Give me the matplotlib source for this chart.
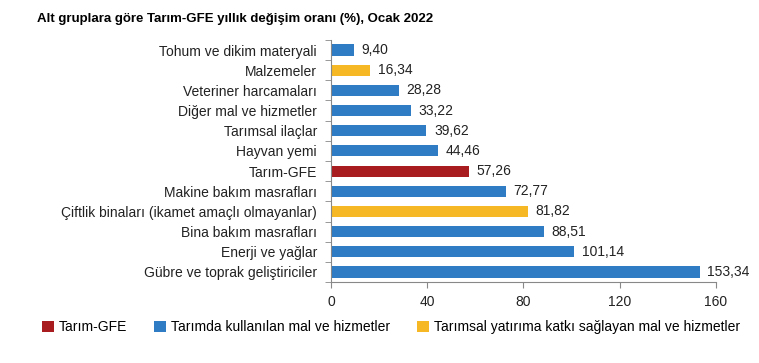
import numpy as np
import matplotlib.pyplot as plt
from matplotlib.patches import Patch

plt.rcParams['font.family'] = ['Liberation Sans', 'DejaVu Sans']
plt.rcParams['font.size'] = 10

categories = ['Tohum ve dikim materyali', 'Malzemeler', 'Veteriner harcamaları',
              'Diğer mal ve hizmetler', 'Tarımsal ilaçlar', 'Hayvan yemi', 'Tarım-GFE',
              'Makine bakım masrafları', 'Çiftlik binaları (ikamet amaçlı olmayanlar)',
              'Bina bakım masrafları', 'Enerji ve yağlar', 'Gübre ve toprak geliştiriciler']
values = [9.40, 16.34, 28.28, 33.22, 39.62, 44.46, 57.26, 72.77, 81.82, 88.51, 101.14, 153.34]
groups = ['mal', 'yat', 'mal', 'mal', 'mal', 'mal', 'gfe', 'mal', 'yat', 'mal', 'mal', 'mal']
xticks = [0, 40, 80, 120, 160]

colors = {'gfe': '#A81C1F', 'mal': '#2F7BC4', 'yat': '#F6B824'}
legend_labels = {'gfe': 'Tarım-GFE', 'mal': 'Tarımda kullanılan mal ve hizmetler',
                 'yat': 'Tarımsal yatırıma katkı sağlayan mal ve hizmetler'}

fig = plt.figure(figsize=(7.59, 3.63), dpi=100)
ax = fig.add_axes([0.436, 0.223, 0.507, 0.667])

y = np.arange(len(categories))
ax.barh(y, values, height=0.55, color=[colors[g] for g in groups])
for yi, v in zip(y, values):
    ax.text(v + 3.2, yi, f'{v:.2f}'.replace('.', ','), va='center', ha='left',
            fontsize=10, color='#222222')

ax.set_ylim(len(categories) - 0.5, -0.5)
ax.set_xlim(0, 160)
ax.set_yticks(y)
ax.set_yticklabels(categories, fontsize=10, color='#222222')
ax.set_yticks(np.arange(-0.5, len(categories), 1), minor=True)
ax.tick_params(axis='y', which='major', length=0, pad=10)
ax.tick_params(axis='y', which='minor', length=4, color='#888888')
ax.set_xticks(xticks)
ax.set_xticklabels([str(t) for t in xticks], fontsize=10, color='#222222')
ax.tick_params(axis='x', length=4, color='#888888', pad=5)
for s in ['top', 'right']:
    ax.spines[s].set_visible(False)
for s in ['left', 'bottom']:
    ax.spines[s].set_color('#888888')

fig.text(0.049, 0.948, 'Alt gruplara göre Tarım-GFE yıllık değişim oranı (%), Ocak 2022',
         fontsize=9.5, fontweight='bold', va='center')

handles = [Patch(facecolor=colors[k], label=legend_labels[k]) for k in ['gfe', 'mal', 'yat']]
fig.legend(handles=handles, loc='center left', bbox_to_anchor=(0.055, 0.098), ncol=3,
           frameon=False, fontsize=10, handlelength=0.85, handleheight=0.85,
           handletextpad=0.4, columnspacing=1.9, borderaxespad=0, borderpad=0)

fig.savefig('out.png', dpi=100)
